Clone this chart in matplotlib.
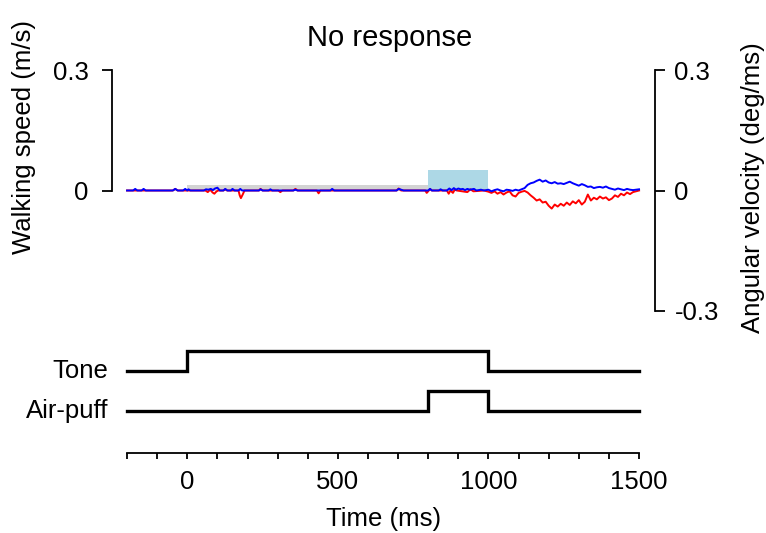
import numpy as np
import matplotlib
matplotlib.use("Agg")
import matplotlib.pyplot as plt
from matplotlib.patches import Rectangle

plt.rcParams['font.family'] = ['Liberation Sans', 'DejaVu Sans']

# walking speed (blue), before 1000 ms: mostly flat with small blips
speed_t_early = [-200, -180, -173, -166, -152, -145, -138, -48, -40, -32, -14, -7, 0, 4, 10, 16,
                 55, 62, 70, 78, 85, 92, 100, 108, 120, 126, 133, 145, 150, 157, 170, 176, 182,
                 238, 243, 250, 270, 276, 282, 352, 359, 366, 475, 481, 488, 695, 702, 710, 718,
                 800, 806, 812, 835, 841, 848, 862, 870, 878, 885, 892, 900, 908, 915, 922, 930,
                 938, 945, 952, 960, 975, 985]
speed_v_early = [0, 0, 0.004, 0, 0, 0.004, 0, 0, 0.004, 0, 0, 0.004, 0, 0.003, 0, 0,
                 0, 0.003, 0.002, 0.004, 0.001, 0.005, 0.007, 0, 0, 0.004, 0, 0, 0.004, 0, 0, 0.004, 0,
                 0, 0.003, 0, 0, 0.003, 0, 0, 0.002, 0, 0, 0.004, 0, 0, 0.004, 0.002, 0,
                 0, 0.004, 0, 0, 0.003, 0, 0, 0.005, 0.001, 0.006, 0.002, 0.005, 0.003, 0.004, 0.001, 0.004,
                 0.002, 0.003, 0.004, 0, 0.002, 0]
# angular velocity (red), before 1000 ms
angvel_t_early = [-200, -48, -40, -32, 60, 68, 76, 84, 90, 96, 102, 120, 126, 132, 170, 174, 178, 184,
                  190, 238, 243, 250, 302, 309, 316, 352, 359, 366, 430, 436, 442, 695, 702, 710,
                  790, 795, 802, 806, 812, 862, 868, 874, 882, 888, 895, 930, 940, 950, 985]
angvel_v_early = [0, 0, 0.004, 0, 0, -0.004, 0.002, -0.005, -0.008, -0.003, 0, 0, 0.003, 0, 0, -0.012,
                  -0.019, -0.010, 0, 0, 0.004, 0, 0, -0.004, 0, 0, 0.004, 0, 0, -0.007, 0, 0, 0.005, 0,
                  0, -0.006, 0, 0.004, 0, 0, -0.008, 0, -0.006, 0.002, 0, -0.004, 0.003, -0.002, 0]

# after the air-puff, sampled every 10 ms from 1000 to 1500
late_t = np.arange(1000, 1501, 10)
speed_v_late = [0.002, -0.002, 0.001, 0.003, 0.000, -0.002, 0.002, 0.001, -0.001, 0.002,
                0.000, 0.003, 0.006, 0.014, 0.018, 0.020, 0.024, 0.027, 0.022, 0.025,
                0.020, 0.018, 0.021, 0.017, 0.018, 0.016, 0.019, 0.022, 0.018, 0.015,
                0.012, 0.016, 0.013, 0.009, 0.010, 0.006, 0.008, 0.009, 0.007, 0.010,
                0.006, 0.004, 0.002, 0.005, 0.003, 0.001, 0.004, 0.002, 0.001, 0.002,
                0.003]
angvel_v_late = [-0.003, -0.006, -0.002, -0.008, -0.004, -0.010, -0.005, -0.002, -0.012, -0.015,
                 -0.006, -0.003, -0.001, -0.005, -0.012, -0.018, -0.025, -0.022, -0.030, -0.028,
                 -0.038, -0.045, -0.035, -0.040, -0.033, -0.038, -0.030, -0.036, -0.027, -0.032,
                 -0.024, -0.035, -0.028, -0.010, -0.025, -0.018, -0.022, -0.015, -0.020, -0.017,
                 -0.024, -0.020, -0.012, -0.016, -0.008, -0.012, -0.005, -0.009, -0.004, -0.002,
                 0.000]

speed_t = list(speed_t_early) + list(late_t)
speed_v = speed_v_early + speed_v_late
angvel_t = list(angvel_t_early) + list(late_t)
angvel_v = angvel_v_early + angvel_v_late

# stimulus timing
tone_times = [-200, 0, 1000, 1500]
tone_levels = [0, 1, 0, 0]
puff_times = [-200, 800, 1000, 1500]
puff_levels = [0, 1, 0, 0]

tone_window = (0, 800)
puff_window = (800, 1000)

W, H = 766, 533
fig = plt.figure(figsize=(W / 100, H / 100), dpi=100)
xlim = (-250, 1553)
fs = 18.5

# top panel
ax = fig.add_axes([112 / W, 1 - 311 / H, (655 - 112) / W, (311 - 70) / H])
ax2 = ax.twinx()
ax2.set_zorder(ax.get_zorder() - 1)
ax.patch.set_visible(False)

for a in (ax, ax2):
    a.set_xlim(*xlim)
    a.set_ylim(-0.3, 0.3)
    a.spines['top'].set_visible(False)
    a.spines['bottom'].set_visible(False)
    a.set_xticks([])

ax2.add_patch(Rectangle((tone_window[0], 0), tone_window[1] - tone_window[0], 0.0125,
                        facecolor='#d3d3d3', edgecolor='none'))
ax2.add_patch(Rectangle((puff_window[0], 0), puff_window[1] - puff_window[0], 0.05,
                        facecolor='#add8e6', edgecolor='none'))
ax2.plot(angvel_t, angvel_v, color='red', lw=1.4)
ax.plot(speed_t, speed_v, color='blue', lw=1.4)

ax.spines['right'].set_visible(False)
ax.spines['left'].set_bounds(0, 0.3)
ax.spines['left'].set_linewidth(1.3)
ax.set_yticks([0, 0.3])
ax.set_yticklabels(['0', '0.3'])
ax.tick_params(axis='y', length=7, width=1.3, pad=10, labelsize=fs)
ax.set_ylabel('Walking speed (m/s)', fontsize=fs)
ax.yaxis.set_label_coords(-0.14, 0.72)

ax2.spines['left'].set_visible(False)
ax2.spines['right'].set_bounds(-0.3, 0.3)
ax2.spines['right'].set_linewidth(1.3)
ax2.set_yticks([-0.3, 0, 0.3])
ax2.set_yticklabels(['-0.3', '0', '0.3'])
ax2.tick_params(axis='y', length=7, width=1.3, pad=7, labelsize=fs)
ax2.set_ylabel('Angular velocity (deg/ms)', fontsize=fs)
ax2.yaxis.set_label_coords(1.158, 0.51)

fig.text(390 / W, 1 - 38 / H, 'No response', fontsize=21, ha='center', va='center')

# bottom panel: stimulus traces
bx = fig.add_axes([112 / W, 1 - 453 / H, (655 - 112) / W, (453 - 330) / H])
bx.set_xlim(*xlim)
bx.set_ylim(-2.1, 4.05)
bx.plot(tone_times, [v + 2 for v in tone_levels], drawstyle='steps-post', color='black', lw=2.4,
        solid_joinstyle='miter')
bx.plot(puff_times, puff_levels, drawstyle='steps-post', color='black', lw=2.4,
        solid_joinstyle='miter')
for s in ('top', 'right', 'left'):
    bx.spines[s].set_visible(False)
bx.spines['bottom'].set_bounds(-200, 1500)
bx.spines['bottom'].set_linewidth(1.3)
bx.set_yticks([])
bx.set_xticks(np.arange(-200, 1501, 100), minor=True)
bx.set_xticks([0, 500, 1000, 1500])
bx.tick_params(axis='x', which='both', length=4.5, width=1.3, pad=8, labelsize=fs)
bx.set_xlabel('Time (ms)', fontsize=fs, labelpad=9)
bx.text(-250 - 4 / 0.3012, 2, 'Tone', fontsize=fs, ha='right', va='center')
bx.text(-250 - 4 / 0.3012, 0, 'Air-puff', fontsize=fs, ha='right', va='center')

fig.savefig('out.png', dpi=100)
